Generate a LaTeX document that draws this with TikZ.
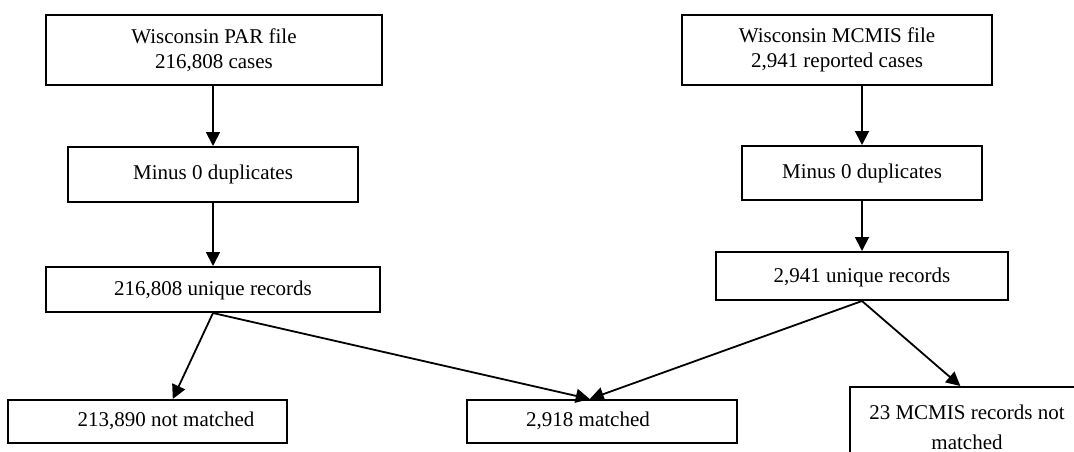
\documentclass[tikz,border=0pt]{standalone}
\usepackage{fontspec}
\setmainfont{Liberation Serif}
\usetikzlibrary{arrows.meta,fit,calc}
\tikzset{
  x=0.5pt, y=-0.5pt,
  box/.style={draw, line width=1pt, inner sep=0pt},
  txt/.style={inner sep=0pt, align=center, font=\fontsize{10.5}{12.5}\selectfont},
  arr/.style={line width=0.9pt, -{Triangle[length=7pt,width=7pt]}}
}
\begin{document}
\begin{tikzpicture}
\useasboundingbox (0,0) rectangle (1074,451);
\clip (0,0) rectangle (1074,451);

% boxes (pixel-grid corners)
\node[box, fit={(46,15) (382,85)}] (par) {};
\node[box, fit={(682,15) (992,85)}] (mcmis) {};
\node[box, fit={(68,147) (358,202)}] (minusL) {};
\node[box, fit={(742,146) (982,200)}] (minusR) {};
\node[box, fit={(46,267) (380,312)}] (uniqL) {};
\node[box, fit={(716,252) (1008,300)}] (uniqR) {};
\node[box, fit={(8,400) (287,443)}] (notL) {};
\node[box, fit={(467,400) (737,443)}] (matched) {};
\node[box, fit={(850,387) (1090,470)}] (notR) {};

% texts
\node[txt] (par-t) at (214,50) {Wisconsin PAR file\\216,808 cases};
\node[txt] (mcmis-t) at (837,50) {Wisconsin MCMIS file\\2,941 reported cases};
\node[txt] (minusL-t) at (213,174) {Minus 0 duplicates};
\node[txt] (minusR-t) at (862,173) {Minus 0 duplicates};
\node[txt] (uniqL-t) at (213,290) {216,808 unique records};
\node[txt] (uniqR-t) at (862,277) {2,941 unique records};
\node[txt] (notL-t) at (166,421) {213,890 not matched};
\node[txt] (matched-t) at (588,421) {2,918 matched};
\node[txt, font=\fontsize{10.5}{15}\selectfont] (notR-t) at (967,427)
  {23 MCMIS records not\\matched};

% connector ends on the bottom row
\coordinate (tipA) at ($(notL.north west)!0.59!(notL.north east)$);
\coordinate (tipB) at ($(matched.north west)!0.455!(matched.north east)$);
\coordinate (tipC) at ($(notR.north west)!0.46!(notR.north east)$);

% connectors
\draw[arr] (par.south -| minusL.north) -- (minusL.north);
\draw[arr] (mcmis.south -| minusR.north) -- (minusR.north);
\draw[arr] (minusL.south) -- (uniqL.north -| minusL.south);
\draw[arr] (minusR.south) -- (minusR.south |- uniqR.north);
\draw[arr] (uniqL.south) -- (tipA);
\draw[arr] (uniqL.south) -- (tipB);
\draw[arr] (uniqR.south) -- (tipB);
\draw[arr] (uniqR.south) -- (tipC);
\end{tikzpicture}
\end{document}
